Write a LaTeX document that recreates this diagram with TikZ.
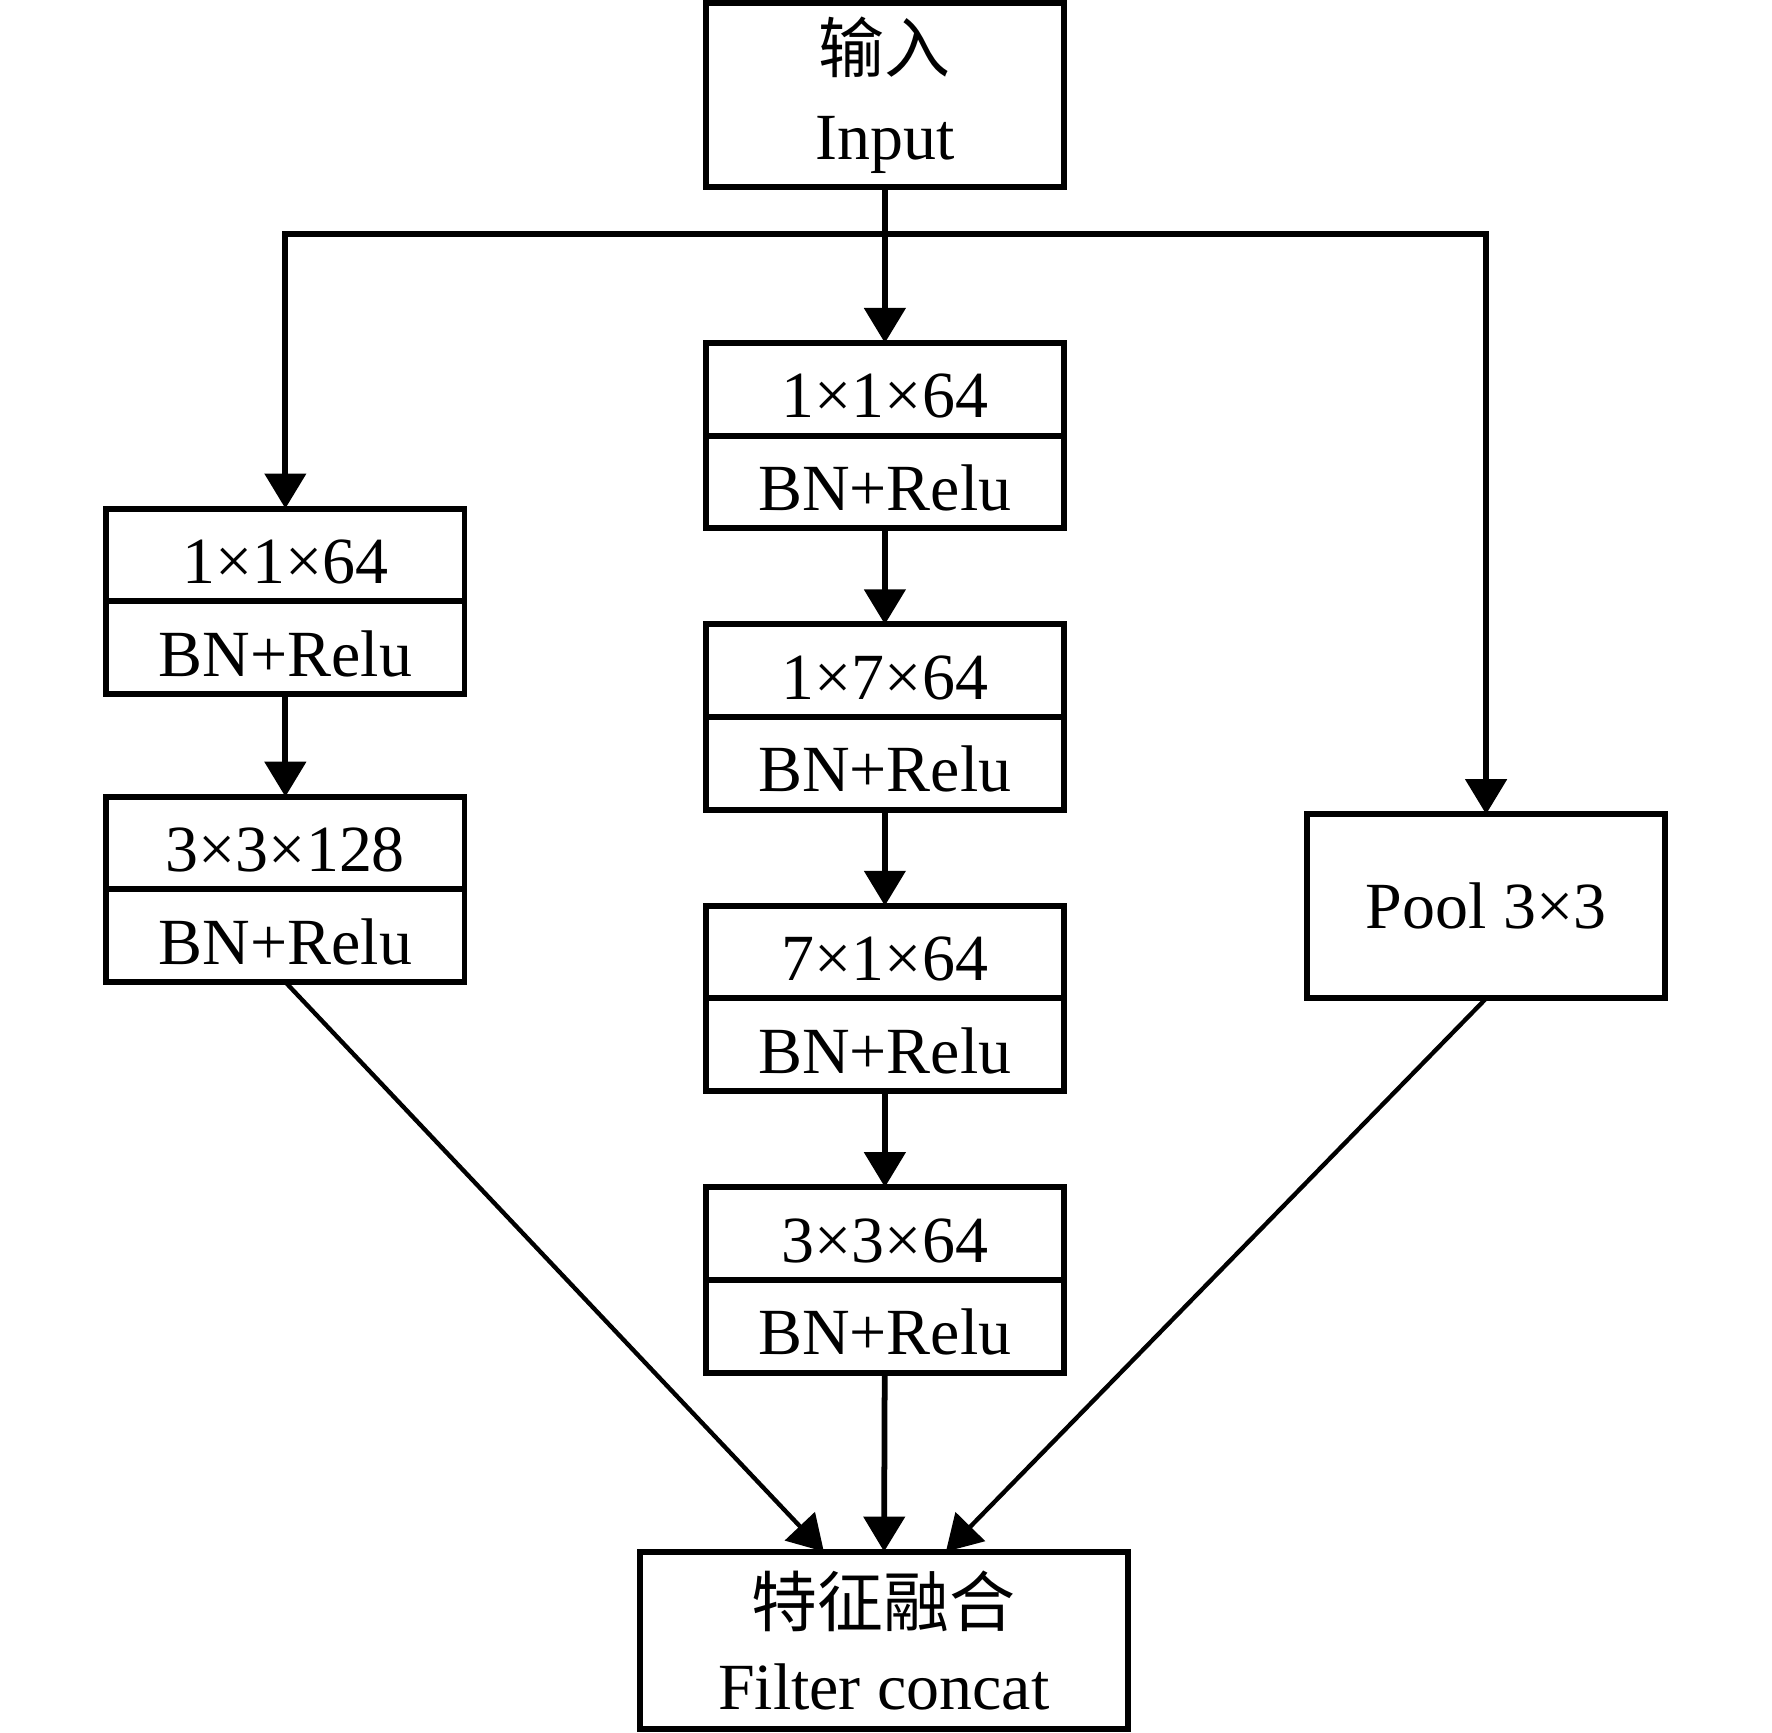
\documentclass[tikz,border=0pt]{standalone}
\usepackage{fontspec}
\setmainfont{Liberation Serif}
\newfontfamily\cjk{Noto Sans CJK SC}
\usetikzlibrary{arrows.meta, positioning}

\begin{document}
\begin{tikzpicture}[
    node distance=0.85cm,
    font=\fontsize{16.6}{21}\selectfont,
    layer/.style={rectangle, draw=black, line width=1.5pt, outer sep=0pt, inner sep=0pt, minimum width=3.17cm, minimum height=0.82cm, text height=14.4pt, text depth=0pt, text centered},
    block/.style={rectangle, draw=black, line width=1.5pt, outer sep=0pt, inner sep=0pt, minimum width=3.17cm, minimum height=1.63cm, align=center},
    arrow/.style={line width=1.45pt, -{Triangle[width=3.6mm, length=3.1mm]}},
    slant/.style={line width=1.1pt, -{Triangle[width=3.6mm, length=3.1mm]}}
]
\useasboundingbox (0,0) rectangle (15.68,-15.33);
% input and split point
\node (in) [block] at (7.83,-0.84) {{\cjk 输入}\\[1pt]Input};
\coordinate (split) at (7.83,-2.07);
% middle branch
\node (m1a) [layer, below=1.38cm of in] {1×1×64};
\node (m1b) [layer, below=0pt of m1a] {BN+Relu};
\node (m2a) [layer, below=of m1b] {1×7×64};
\node (m2b) [layer, below=0pt of m2a] {BN+Relu};
\node (m3a) [layer, below=of m2b] {7×1×64};
\node (m3b) [layer, below=0pt of m3a] {BN+Relu};
\node (m4a) [layer, below=of m3b] {3×3×64};
\node (m4b) [layer, below=0pt of m4a] {BN+Relu};
% left branch
\node (l1a) [layer, anchor=north] at (2.525,-4.50) {1×1×64};
\node (l1b) [layer, below=0pt of l1a] {BN+Relu};
\node (l2a) [layer, below=0.91cm of l1b] {3×3×128};
\node (l2b) [layer, below=0pt of l2a] {BN+Relu};
% right branch
\node (pool) [block] at (13.15,-8.02) {Pool 3×3};
% output
\node (out) [block, minimum width=4.32cm, minimum height=1.57cm] at (7.82,-14.515) {{\cjk 特征融合}\\Filter concat};

\draw [arrow] (in) -- (m1a);
\draw [arrow] (split) -| (l1a);
\draw [arrow] (split) -| (pool);
\draw [arrow] (m1b) -- (m2a);
\draw [arrow] (m2b) -- (m3a);
\draw [arrow] (m3b) -- (m4a);
\draw [arrow] (l1b) -- (l2a);
\draw [arrow] (m4b) -- (out);
\draw [slant] (l2b.south) -- ([xshift=-5.3mm]out.north);
\draw [slant] (pool.south) -- ([xshift=5.5mm]out.north);
\end{tikzpicture}
\end{document}
